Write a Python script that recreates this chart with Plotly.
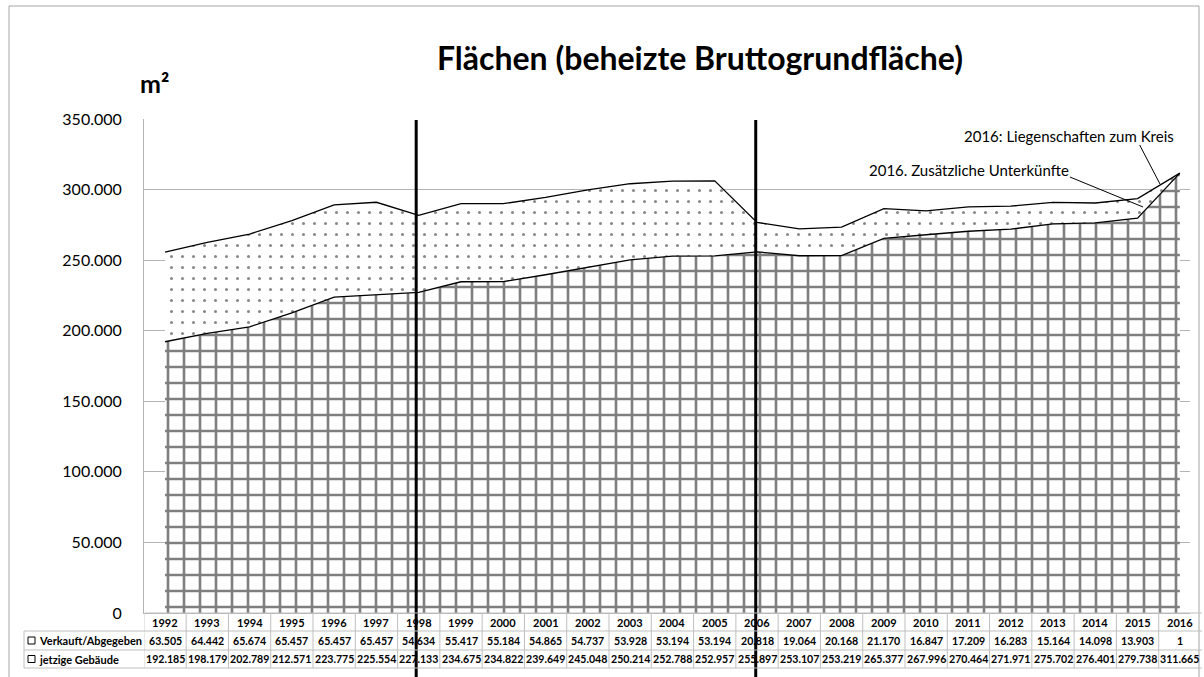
import plotly.graph_objects as go

years = [str(y) for y in range(1992, 2017)]
verkauft = [63505, 64442, 65674, 65457, 65457, 65457, 54634, 55417, 55184, 54865,
            54737, 53928, 53194, 53194, 20818, 19064, 20168, 21170, 16847, 17209,
            16283, 15164, 14098, 13903, 1]
jetzige = [192185, 198179, 202789, 212571, 223775, 225554, 227133, 234675, 234822, 239649,
           245048, 250214, 252788, 252957, 255897, 253107, 253219, 265377, 267996, 270464,
           271971, 275702, 276401, 279738, 311665]
row_labels = ["Verkauft/Abgegeben", "jetzige Gebäude"]
marker_years = ["1998", "2006"]

FONT = "Lato"
GRID = "#b4b4b4"

# plot area in pixels
PL, PR, PT, PB = 144, 1190, 119, 613


def px(x):
    return (x - PL) / (PR - PL)


def py(y):
    return (PB - y) / (PB - PT)


def de(v):
    return f"{v:,}".replace(",", ".")


xs = list(range(len(years)))

fig = go.Figure()

fig.add_trace(go.Scatter(
    x=xs, y=jetzige, name=row_labels[1], stackgroup="one", mode="lines",
    line=dict(color="black", width=1.3),
    fillcolor="white",
    fillpattern=dict(shape="+", size=16, solidity=0.3, fgcolor="black", bgcolor="white"),
))
fig.add_trace(go.Scatter(
    x=xs, y=verkauft, name=row_labels[0], stackgroup="one", mode="lines",
    line=dict(color="black", width=1.3),
    fillcolor="white",
    fillpattern=dict(shape=".", size=11, solidity=0.06, fgcolor="#111111", bgcolor="white"),
))

shapes = []
annotations = []

# outer chart frame
shapes.append(dict(type="rect", xref="paper", yref="paper", x0=px(9), x1=px(1199),
                   y0=py(6), y1=py(700), line=dict(color="#a6a6a6", width=1), layer="below"))

# thick vertical marker lines
for yr, xv in zip(marker_years, [5.94, 13.97]):
    shapes.append(dict(type="line", xref="x", yref="paper", x0=xv, x1=xv,
                       y0=py(120), y1=py(690), line=dict(color="black", width=3)))

# data table
row_edges = [613, 631, 650, 668]
tcol = "#bfbfbf"
for i in range(len(years) + 1):
    xv = i - 0.5
    shapes.append(dict(type="line", xref="x", yref="paper", x0=xv, x1=xv,
                       y0=py(row_edges[0]), y1=py(row_edges[-1]), line=dict(color=tcol, width=1)))
shapes.append(dict(type="line", xref="paper", yref="paper", x0=px(24), x1=px(24),
                   y0=py(row_edges[1]), y1=py(row_edges[-1]), line=dict(color=tcol, width=1)))
for k, ry in enumerate(row_edges):
    x0 = px(24) if k > 0 else px(145)
    shapes.append(dict(type="line", xref="paper", yref="paper", x0=x0, x1=px(1202),
                       y0=py(ry), y1=py(ry), line=dict(color=tcol, width=1)))

for i, yr in enumerate(years):
    annotations.append(dict(x=i, y=py((row_edges[0] + row_edges[1]) / 2), xref="x", yref="paper",
                            xanchor="center", yanchor="middle",
                            text=f"<b>{yr}</b>", showarrow=False,
                            font=dict(family=FONT, size=11, color="black")))
    for r, vals in enumerate([verkauft, jetzige]):
        yc = (row_edges[r + 1] + row_edges[r + 2]) / 2
        annotations.append(dict(x=i, y=py(yc), xref="x", yref="paper",
                                xanchor="center", yanchor="middle",
                                text=f"<b>{de(vals[i])}</b>", showarrow=False,
                                font=dict(family=FONT, size=10.6, color="black")))

for r, lab in enumerate(row_labels):
    yc = (row_edges[r + 1] + row_edges[r + 2]) / 2
    shapes.append(dict(type="rect", xref="paper", yref="paper", x0=px(28), x1=px(35),
                       y0=py(yc - 3.5), y1=py(yc + 3.5), line=dict(color="black", width=1),
                       fillcolor="white"))
    annotations.append(dict(x=px(37), y=py(yc), xref="paper", yref="paper",
                            xanchor="left", yanchor="middle",
                            text=f"<b>{lab}</b>", showarrow=False,
                            font=dict(family=FONT, size=11, color="black")))

# titles
annotations.append(dict(x=px(700), y=py(57), xref="paper", yref="paper",
                        xanchor="center", yanchor="middle",
                        text="<b>Flächen (beheizte Bruttogrundfläche)</b>", showarrow=False,
                        font=dict(family=FONT, size=32, color="black")))
annotations.append(dict(x=px(154), y=py(83), xref="paper", yref="paper",
                        xanchor="center", yanchor="middle",
                        text="<b>m²</b>", showarrow=False,
                        font=dict(family=FONT, size=25, color="black")))

# callouts (text + leader line)
callouts = [
    ("2016: Liegenschaften zum Kreis", 1069, 136, (23.05, 331600), (23.53, 303950)),
    ("2016. Zusätzliche Unterkünfte", 969, 170, (21.40, 308900), (23.13, 287650)),
]
for txt, tx, ty, p0, p1 in callouts:
    annotations.append(dict(x=px(tx), y=py(ty), xref="paper", yref="paper",
                            xanchor="center", yanchor="middle", text=txt, showarrow=False,
                            font=dict(family=FONT, size=15, color="black")))
    shapes.append(dict(type="line", xref="x", yref="y", x0=p0[0], y0=p0[1], x1=p1[0], y1=p1[1],
                       line=dict(color="black", width=1)))

fig.update_layout(
    width=1204, height=677,
    margin=dict(l=PL, r=1204 - PR, t=PT, b=677 - PB),
    paper_bgcolor="white", plot_bgcolor="white",
    separators=",.",
    showlegend=False,
    font=dict(family=FONT, color="black"),
    shapes=shapes, annotations=annotations,
    xaxis=dict(range=[-0.497, 24.24], showticklabels=False, showgrid=False, zeroline=False,
               showline=True, linecolor=GRID, linewidth=1, fixedrange=True),
    yaxis=dict(range=[0, 350000], dtick=50000, tickformat=",d", showgrid=True, gridcolor=GRID,
               gridwidth=1, zeroline=False, showline=True, linecolor=GRID, linewidth=1,
               ticks="", ticklabelstandoff=18, tickfont=dict(family=FONT, size=16, color="black")),
)

fig.write_html("out.html", config={"displayModeBar": False},
               post_script="document.body.style.margin='0';document.body.style.overflow='hidden';")
